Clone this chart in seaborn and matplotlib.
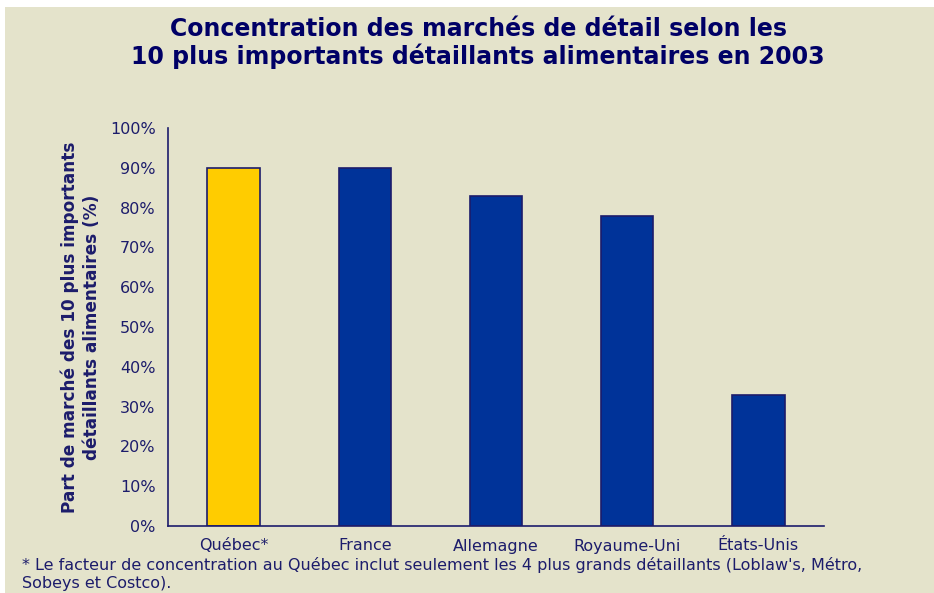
import numpy as np
import pandas as pd
import matplotlib
matplotlib.use("Agg")
import matplotlib.pyplot as plt
import seaborn as sns
from matplotlib.ticker import PercentFormatter

# Données
pays = ["Québec*", "France", "Allemagne", "Royaume-Uni", "États-Unis"]
parts = [90, 90, 83, 78, 33]
couleurs = ["#FFCC00", "#003399", "#003399", "#003399", "#003399"]

fond = "#E4E3CB"
navy = "#1C1C6B"

sns.set_style("white")
plt.rcParams["font.family"] = ["DejaVu Sans"]

df = pd.DataFrame({"Pays": pays, "Part": parts})

fig = plt.figure(figsize=(9.34, 5.93), dpi=100)
fig.patch.set_facecolor("white")
# fond beige (bande blanche en haut et à gauche)
fig.patches.append(plt.Rectangle((5 / 934, 0), 1, 1 - 7 / 593, transform=fig.transFigure,
                                 facecolor=fond, edgecolor="none", zorder=-10))

ax = fig.add_axes([168 / 934, 1 - 526 / 593, (824 - 168) / 934, (526 - 128) / 593])
ax.set_facecolor(fond)

sns.barplot(data=df, x="Pays", y="Part", hue="Pays", palette=couleurs, legend=False,
            width=0.4, edgecolor=navy, linewidth=1.2, saturation=1, ax=ax)

ax.set_ylim(0, 100)
ax.set_xlim(-0.5, len(pays) - 0.5)
ax.set_yticks(np.arange(0, 101, 10))
ax.yaxis.set_major_formatter(PercentFormatter(decimals=0))

# graduations de l'axe x entre les catégories
ax.set_xticks(np.arange(-0.5, len(pays), 1))
ax.set_xticklabels([])
ax.set_xticks(np.arange(len(pays)), minor=True)
ax.set_xticklabels(pays, minor=True)
ax.tick_params(axis="x", which="major", length=6, width=1.2, color=navy, direction="out")
ax.tick_params(axis="x", which="minor", length=0, pad=9, labelsize=11.5, labelcolor=navy)
ax.tick_params(axis="y", length=5, width=1.2, color=navy, direction="out",
               labelsize=11.5, labelcolor=navy, pad=4)

for s in ["top", "right"]:
    ax.spines[s].set_visible(False)
for s in ["left", "bottom"]:
    ax.spines[s].set_color(navy)
    ax.spines[s].set_linewidth(1.2)

ax.set_xlabel("")
ax.set_ylabel("Part de marché des 10 plus importants\ndétaillants alimentaires (%)",
              fontsize=12.2, fontweight="bold", color=navy, labelpad=6, linespacing=1.3)

fig.text(478 / 934, 1 - 43 / 593,
         "Concentration des marchés de détail selon les\n10 plus importants détaillants alimentaires en 2003",
         ha="center", va="center", fontsize=17, fontweight="bold", color="#000066",
         linespacing=1.15)

fig.text(22 / 934, 1 - 574 / 593,
         "* Le facteur de concentration au Québec inclut seulement les 4 plus grands détaillants (Loblaw's, Métro,\nSobeys et Costco).",
         ha="left", va="center", fontsize=11.5, color=navy, linespacing=1.25)

fig.savefig("out.png", dpi=100, facecolor=fig.get_facecolor())
